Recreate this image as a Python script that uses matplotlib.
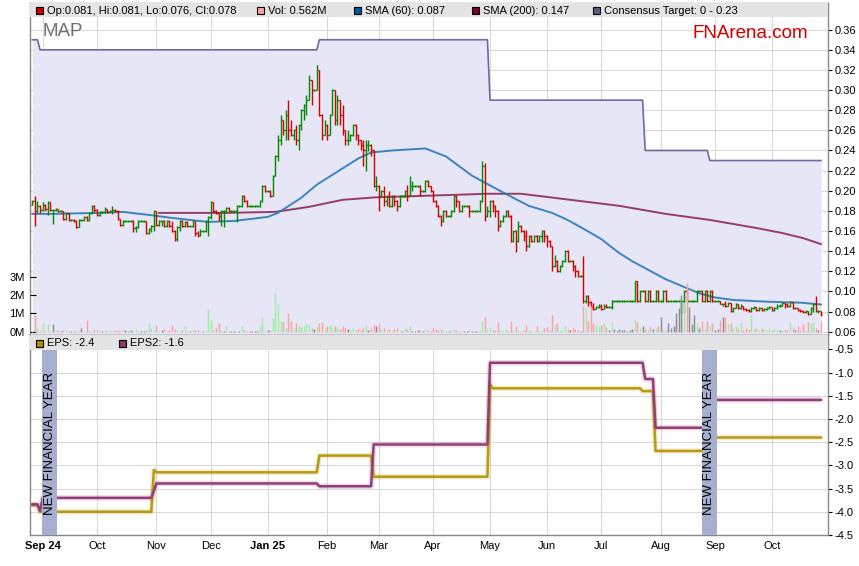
import numpy as np
import pandas as pd
from matplotlib import pyplot as plt
from matplotlib.collections import LineCollection
from matplotlib.patches import Rectangle

plt.rcParams["font.family"] = ["Liberation Sans", "DejaVu Sans"]
plt.rcParams["font.size"] = 8

# trading days on the chart (Mon-Fri)
days = pd.bdate_range("2024-08-27", "2025-10-28")

# daily prices in tenths of a cent
first_open = 186
close = [
    190, 180, 185, 181, 186, 182, 189, 181, 181, 182,
    180, 180, 172, 178, 171, 171, 170, 164, 171, 171,
    174, 171, 178, 185, 181, 176, 179, 179, 182, 179,
    180, 181, 180, 172, 166, 170, 170, 170, 170, 163,
    164, 170, 170, 170, 158, 162, 165, 180, 166, 170,
    170, 165, 170, 165, 160, 152, 164, 170, 165, 169,
    165, 165, 170, 158, 156, 160, 160, 170, 174, 189,
    180, 178, 175, 180, 180, 183, 180, 180, 180, 185,
    185, 195, 190, 185, 185, 185, 185, 185, 190, 205,
    200, 200, 195, 215, 235, 250, 270, 260, 275, 260,
    255, 260, 250, 265, 280, 285, 290, 310, 300, 300,
    320, 275, 255, 265, 255, 275, 300, 270, 290, 275,
    260, 250, 250, 255, 265, 255, 250, 245, 240, 245,
    245, 240, 205, 205, 195, 200, 190, 195, 185, 195,
    190, 185, 195, 195, 200, 195, 205, 205, 205, 205,
    200, 200, 210, 205, 200, 190, 185, 175, 170, 180,
    175, 175, 180, 195, 190, 180, 185, 185, 185, 180,
    180, 180, 180, 190, 225, 175, 180, 190, 185, 180,
    165, 170, 175, 180, 175, 150, 160, 150, 165, 160,
    155, 145, 155, 150, 155, 150, 155, 160, 155, 150,
    145, 125, 130, 120, 125, 130, 140, 130, 130, 125,
    120, 115, 115, 90, 95, 89, 85, 83, 85, 86,
    83, 86, 85, 85, 90, 90, 90, 90, 90, 90,
    90, 90, 90, 110, 90, 100, 100, 90, 100, 90,
    90, 100, 90, 90, 100, 90, 90, 90, 90, 90,
    90, 90, 100, 90, 90, 90, 90, 100, 100, 90,
    100, 90, 100, 90, 90, 90, 87, 87, 86, 88,
    81, 84, 87, 84, 86, 83, 82, 81, 84, 85,
    82, 84, 82, 83, 84, 85, 82, 84, 86, 86,
    88, 87, 86, 89, 84, 84, 82, 81, 80, 81,
    78, 84, 87, 81, 81, 78,
]
high = [
    191, 195, 190, 186, 189, 187, 190, 189, 182, 183,
    181, 181, 180, 179, 178, 172, 172, 171, 172, 172,
    175, 175, 179, 186, 186, 182, 180, 180, 184, 182,
    181, 185, 182, 181, 172, 171, 171, 171, 171, 171,
    165, 171, 171, 171, 170, 163, 166, 181, 178, 171,
    171, 171, 171, 171, 170, 161, 165, 171, 171, 170,
    170, 166, 171, 170, 160, 162, 161, 171, 175, 190,
    189, 181, 179, 181, 181, 184, 184, 181, 181, 186,
    186, 196, 196, 191, 186, 186, 186, 186, 191, 206,
    206, 201, 201, 216, 236, 255, 275, 270, 280, 290,
    270, 261, 265, 266, 281, 286, 295, 315, 310, 301,
    325, 320, 276, 270, 266, 276, 301, 300, 295, 290,
    285, 260, 260, 256, 266, 266, 256, 250, 250, 250,
    250, 246, 240, 215, 206, 201, 205, 196, 200, 196,
    196, 191, 196, 196, 201, 206, 215, 210, 206, 206,
    206, 201, 211, 211, 201, 201, 191, 186, 176, 181,
    181, 176, 181, 196, 196, 190, 186, 186, 186, 186,
    181, 181, 181, 191, 230, 228, 185, 191, 191, 186,
    181, 171, 176, 181, 181, 176, 161, 161, 170, 166,
    161, 161, 156, 156, 156, 156, 156, 161, 161, 156,
    151, 141, 136, 131, 126, 131, 141, 141, 131, 131,
    126, 121, 116, 135, 96, 96, 90, 88, 86, 87,
    87, 87, 87, 86, 91, 91, 91, 91, 91, 91,
    91, 91, 91, 110, 110, 101, 101, 101, 101, 101,
    91, 101, 101, 91, 101, 101, 91, 91, 91, 91,
    91, 91, 101, 101, 91, 91, 91, 101, 101, 101,
    101, 101, 101, 101, 91, 91, 90, 88, 90, 89,
    88, 85, 88, 87, 87, 86, 84, 83, 85, 86,
    85, 85, 84, 84, 85, 86, 85, 85, 87, 87,
    89, 88, 88, 90, 89, 85, 84, 83, 82, 82,
    81, 85, 88, 95, 82, 81,
]
low = [
    186, 165, 178, 178, 180, 180, 176, 180, 167, 180,
    179, 179, 171, 171, 170, 170, 169, 163, 164, 170,
    170, 170, 170, 177, 179, 175, 175, 178, 178, 178,
    179, 177, 179, 171, 165, 165, 169, 169, 169, 159,
    159, 163, 169, 169, 157, 157, 159, 160, 165, 165,
    165, 164, 164, 164, 159, 150, 150, 160, 164, 164,
    164, 164, 164, 155, 154, 155, 159, 159, 155, 172,
    179, 177, 170, 165, 164, 179, 179, 179, 179, 169,
    184, 184, 189, 184, 184, 184, 184, 184, 184, 189,
    199, 199, 194, 195, 215, 230, 245, 255, 250, 250,
    254, 250, 245, 240, 260, 270, 275, 290, 285, 299,
    300, 274, 250, 255, 250, 255, 275, 265, 265, 265,
    255, 245, 245, 249, 254, 250, 245, 240, 225, 220,
    239, 235, 204, 200, 180, 194, 185, 185, 184, 184,
    185, 180, 184, 194, 194, 190, 195, 200, 204, 204,
    195, 199, 199, 204, 199, 189, 184, 174, 165, 169,
    174, 174, 174, 179, 184, 179, 179, 184, 184, 174,
    179, 179, 179, 179, 189, 170, 174, 174, 179, 174,
    160, 164, 169, 174, 174, 149, 149, 139, 149, 159,
    150, 140, 144, 149, 149, 149, 149, 149, 149, 144,
    144, 120, 124, 119, 119, 124, 129, 129, 129, 120,
    114, 114, 114, 88, 88, 86, 83, 82, 83, 84,
    82, 83, 84, 84, 83, 89, 89, 89, 89, 89,
    89, 89, 89, 89, 89, 89, 99, 89, 89, 89,
    89, 89, 89, 89, 89, 89, 89, 89, 89, 89,
    89, 79, 79, 89, 89, 89, 89, 89, 99, 89,
    89, 89, 89, 89, 89, 89, 87, 86, 85, 86,
    80, 80, 84, 83, 83, 82, 81, 80, 80, 83,
    81, 81, 81, 81, 82, 83, 81, 81, 83, 85,
    86, 84, 85, 85, 83, 83, 81, 80, 79, 79,
    77, 78, 80, 80, 79, 76,
]
# volume in millions of shares
volume = [
    0.05, 0.91, 0.2, 0.05, 0.46, 0.05, 0.42, 0.03, 0.42, 0.1,
    0.1, 0.03, 0.08, 0.1, 0.05, 0.03, 0.05, 0.03, 0.05, 0.2,
    0.05, 0.66, 0.1, 0.05, 0.15, 0.1, 0.05, 0.05, 0.1, 0.04,
    0.1, 0.05, 0.08, 0.1, 0.05, 0.1, 0.08, 0.05, 0.1, 0.05,
    0.15, 0.05, 0.03, 0.05, 0.1, 0.46, 0.2, 0.1, 0.37, 0.05,
    0.08, 0.15, 0.05, 0.1, 0.37, 0.15, 0.1, 0.05, 0.1, 0.31,
    0.05, 0.05, 0.1, 0.08, 0.1, 0.05, 0.05, 0.1, 1.26, 0.66,
    0.1, 0.2, 0.46, 0.1, 0.05, 0.31, 0.05, 0.03, 0.05, 0.05,
    0.05, 0.31, 0.1, 0.05, 0.03, 0.05, 0.05, 0.05, 0.37, 0.78,
    0.05, 0.1, 0.1, 0.77, 2.13, 1.5, 0.6, 0.55, 0.2, 1.0,
    0.6, 0.2, 0.45, 0.3, 0.25, 0.3, 0.4, 0.35, 0.2, 0.15,
    0.3, 0.45, 0.55, 0.2, 0.3, 0.35, 0.25, 0.3, 0.2, 0.15,
    0.3, 0.2, 0.15, 0.1, 0.2, 0.1, 0.15, 0.1, 0.2, 0.35,
    0.1, 0.2, 0.35, 0.3, 0.4, 0.15, 0.2, 0.1, 0.15, 0.1,
    0.15, 0.2, 0.1, 0.05, 0.2, 0.15, 0.3, 0.05, 0.05, 0.1,
    0.1, 0.05, 0.15, 0.1, 0.05, 0.2, 0.15, 0.1, 0.15, 0.1,
    0.05, 0.03, 0.1, 0.15, 0.1, 0.05, 0.05, 0.03, 0.05, 0.12,
    0.03, 0.05, 0.05, 0.1, 0.58, 0.82, 0.1, 0.25, 0.1, 0.1,
    0.55, 0.1, 0.1, 0.15, 0.05, 0.6, 0.1, 0.3, 0.1, 0.05,
    0.1, 0.36, 0.1, 0.05, 0.05, 0.33, 0.05, 0.1, 0.2, 0.25,
    0.1, 0.9, 0.4, 0.45, 0.1, 0.1, 0.3, 0.15, 0.1, 0.2,
    0.15, 0.1, 0.05, 1.4, 1.35, 0.6, 1.4, 0.45, 0.35, 0.3,
    0.35, 0.45, 0.25, 0.1, 0.55, 0.15, 0.05, 0.15, 0.1, 0.1,
    0.05, 0.1, 0.15, 0.64, 0.55, 0.2, 0.3, 0.15, 0.1, 0.25,
    0.15, 0.2, 0.3, 0.8, 0.15, 0.1, 0.5, 0.2, 0.3, 1.0,
    1.3, 2.0, 1.64, 2.64, 1.37, 0.4, 0.9, 0.5, 0.2, 0.6,
    0.15, 0.6, 0.3, 0.5, 0.1, 0.15, 0.64, 0.8, 0.82, 0.4,
    0.5, 0.2, 0.3, 0.15, 0.5, 0.1, 0.2, 0.15, 0.91, 0.2,
    0.2, 0.1, 0.2, 0.15, 0.1, 0.2, 0.1, 0.15, 0.15, 0.1,
    0.1, 0.15, 0.1, 0.55, 0.2, 0.1, 0.3, 0.1, 0.4, 0.1,
    0.55, 0.5, 0.55, 0.2, 0.1, 0.562,
]

# moving averages (bar number, value)
sma60_bar = [0, 7, 26, 35, 45, 54, 68, 78, 91, 95, 98, 104, 110, 118, 126, 131,
             139, 152, 160, 170, 183, 192, 201, 207, 214, 220, 227, 232, 245,
             258, 264, 271, 284, 297, 305]
sma60 = [0.177, 0.177, 0.178, 0.179, 0.176, 0.173, 0.169, 0.170, 0.174, 0.178,
         0.183, 0.193, 0.206, 0.219, 0.232, 0.238, 0.240, 0.242, 0.234, 0.215,
         0.197, 0.185, 0.178, 0.171, 0.161, 0.152, 0.138, 0.130, 0.112, 0.098,
         0.094, 0.0915, 0.0898, 0.0888, 0.087]
sma200_bar = [49, 75, 94, 107, 120, 133, 152, 176, 189, 208, 227, 245, 262, 280,
              290, 298, 305]
sma200 = [0.178, 0.178, 0.179, 0.184, 0.191, 0.1935, 0.195, 0.197, 0.197, 0.191,
          0.185, 0.177, 0.171, 0.163, 0.158, 0.153, 0.147]

# consensus target (changes)
target_dates = ["2024-08-27", "2024-08-30", "2025-01-29", "2025-05-01",
                "2025-07-24", "2025-08-28"]
target_vals = [0.35, 0.34, 0.35, 0.29, 0.24, 0.23]

# EPS forecasts (changes)
eps_dates = ["2024-08-27", "2024-08-30", "2024-10-31", "2024-11-01", "2025-01-29",
             "2025-02-27", "2025-05-01", "2025-05-02", "2025-07-23", "2025-07-30",
             "2025-08-28"]
eps_vals = [-3.86, -4.00, -3.10, -3.15, -2.79, -3.245, -1.25, -1.34, -1.40, -2.69, -2.40]
eps2_dates = ["2024-08-27", "2024-08-30", "2024-09-02", "2024-10-31", "2024-11-01",
              "2025-01-29", "2025-02-27", "2025-05-01", "2025-07-24", "2025-07-30",
              "2025-08-28"]
eps2_vals = [-3.84, -3.98, -3.70, -3.55, -3.39, -3.45, -2.55, -0.79, -1.14, -2.19, -1.59]

new_fy = ["2024-09-02", "2025-08-25"]

GREEN, RED = "#008a00", "#d40000"
PINK, LGREEN, GRAY = "#ff9f9f", "#9cf09c", "#8a8a8a"
BLUE, MAROON, SLATE = "#2a7ab8", "#8e2a55", "#6c6ca0"
GOLD, PURPLE = "#b89a10", "#943c78"
LAV, STRIP, GRID = "#e6e6f6", "#e4e4e4", "#d9d9d9"

W, H = 859, 566


def fx(px):
    return px / W


def fy(py):
    return 1 - py / H


x = np.arange(len(days))


def steps(dates, vals):
    start = days.get_indexer(pd.to_datetime(dates))
    return np.array(vals)[np.searchsorted(start, x, side="right") - 1]


c = np.array(close) / 1000
o = np.r_[first_open / 1000, c[:-1]]
hi = np.maximum.reduce([np.array(high) / 1000, o, c])
lo = np.minimum.reduce([np.array(low) / 1000, o, c])
up = c >= o

fig = plt.figure(figsize=(W / 100, H / 100), dpi=100)
ax = fig.add_axes([fx(30), fy(335), fx(828) - fx(30), fy(3) - fy(335)])
ax2 = fig.add_axes([fx(30), fy(535), fx(828) - fx(30), fy(335) - fy(535)], sharex=ax)

# month ticks
month_start = [i for i in range(len(days)) if i == 0 or days[i].month != days[i - 1].month][1:]
month_lbl = []
for i in month_start:
    d = days[i]
    if (d.year == 2024 and d.month == 9) or d.month == 1:
        month_lbl.append(d.strftime("%b %y"))
    else:
        month_lbl.append(d.strftime("%b"))

# volume on its own scale, drawn over the price panel
axv = ax.twinx()

for a in (ax, ax2):
    a.set_facecolor("white")
    a.set_axisbelow(True)
    a.grid(True, color=GRID, lw=0.8)
    for s in a.spines.values():
        s.set_color("#888888")
        s.set_linewidth(1.0)
    a.yaxis.tick_right()
    a.yaxis.set_label_position("right")
    a.tick_params(axis="y", direction="out", length=3, pad=2, colors="black",
                  left=False, labelleft=False, right=True, labelright=True)
    a.set_xticks(month_start)
ax.set_xlim(-0.9, 307.7)

# price panel
ax.set_ylim(0.0567, 0.3865)
ax.set_yticks(np.arange(0.06, 0.365, 0.02))
ax.yaxis.set_major_formatter(plt.FormatStrFormatter("%.2f"))
ax.tick_params(axis="x", length=0, labelbottom=False)

tgt = steps(target_dates, target_vals)
ax.fill_between(x, tgt, 0, color=LAV, lw=0, zorder=1)
ax.plot(x, tgt, color=SLATE, lw=1.2, zorder=2)
ax.plot(sma200_bar, sma200, color=MAROON, lw=1.4, alpha=0.9, zorder=3)
ax.plot(sma60_bar, sma60, color=BLUE, lw=1.4, alpha=0.9, zorder=3)

segs, cols = [], []
for i in range(len(x)):
    col = GREEN if up[i] else RED
    segs += [[(i, lo[i]), (i, hi[i])], [(i - 0.5, o[i]), (i, o[i])], [(i, c[i]), (i + 0.5, c[i])]]
    cols += [col] * 3
ax.add_collection(LineCollection(segs, colors=cols, linewidths=1.0, zorder=4))
ax.add_patch(Rectangle((0, 318 / 332), 1, 14 / 332, transform=ax.transAxes,
                       facecolor=STRIP, edgecolor="none", zorder=6))

axv.set_ylim(-0.18, 17.96)
axv.yaxis.tick_left()
axv.set_yticks([0, 1, 2, 3])
axv.set_yticklabels(["0M", "1M", "2M", "3M"])
axv.tick_params(axis="y", direction="in", length=4, pad=4, colors="black",
                left=True, labelleft=True, right=False, labelright=False)
for s in axv.spines.values():
    s.set_visible(False)
vcol = np.where(c > o, LGREEN, np.where(c < o, PINK, GRAY))
axv.vlines(x, 0, volume, colors=vcol, lw=1.0)

# EPS panel
ax2.set_ylim(-4.5, -0.192)
ax2.set_yticks(np.arange(-0.5, -4.55, -0.5))
ax2.yaxis.set_major_formatter(plt.FormatStrFormatter("%.1f"))
ax2.tick_params(axis="x", length=0, pad=4)
ax2.set_xticklabels(month_lbl)
for t in ax2.get_xticklabels():
    if " " in t.get_text():
        t.set_fontweight("bold")

e1 = steps(eps_dates, eps_vals)
e2 = steps(eps2_dates, eps2_vals)
for e, col in ((e1, GOLD), (e2, PURPLE)):
    ax2.plot(x, e, color=col, lw=4, alpha=0.18, zorder=3, solid_capstyle="butt")
    ax2.plot(x, e, color=col, lw=1.8, zorder=4)

for d in new_fy:
    b = days.get_loc(pd.Timestamp(d)) - 0.2
    ax2.axvspan(b, b + 5.8, ymin=0, ymax=0.925, color="#a7afcf", lw=0, zorder=6)
    ax2.text(b + 2.9, 0.46, "NEW FINANCIAL YEAR", transform=ax2.get_xaxis_transform(),
             rotation=90, ha="center", va="center", fontsize=9.5, zorder=7)
ax2.add_patch(Rectangle((0, 0.925), 1, 0.075, transform=ax2.transAxes,
                        facecolor=STRIP, edgecolor="none", zorder=6))


def key(xp, yp, color, text):
    fig.add_artist(Rectangle((fx(xp), fy(yp + 3.5)), 7 / W, 7 / H, transform=fig.transFigure,
                             facecolor=color, edgecolor="black", lw=0.8))
    fig.text(fx(xp + 11), fy(yp), text, va="center", ha="left", fontsize=8)


key(36, 10.5, "#c80000", "Op:0.081, Hi:0.081, Lo:0.076, Cl:0.078")
key(257, 10.5, "#ff9f9f", "Vol: 0.562M")
key(354, 10.5, "#005a9c", "SMA (60): 0.087")
key(472, 10.5, "#7a0026", "SMA (200): 0.147")
key(593, 10.5, "#5c5c8a", "Consensus Target: 0 - 0.23")
key(36, 343, "#b09000", "EPS: -2.4")
key(119, 343, "#8b3a6b", "EPS2: -1.6")

fig.text(fx(42), fy(31), "MAP", fontsize=13.5, color="#707070", va="center", ha="left")
fig.text(fx(808), fy(33), "FNArena.com", fontsize=13.5, color="#cc0000", va="center", ha="right")

plt.savefig("out.png", dpi=100)
